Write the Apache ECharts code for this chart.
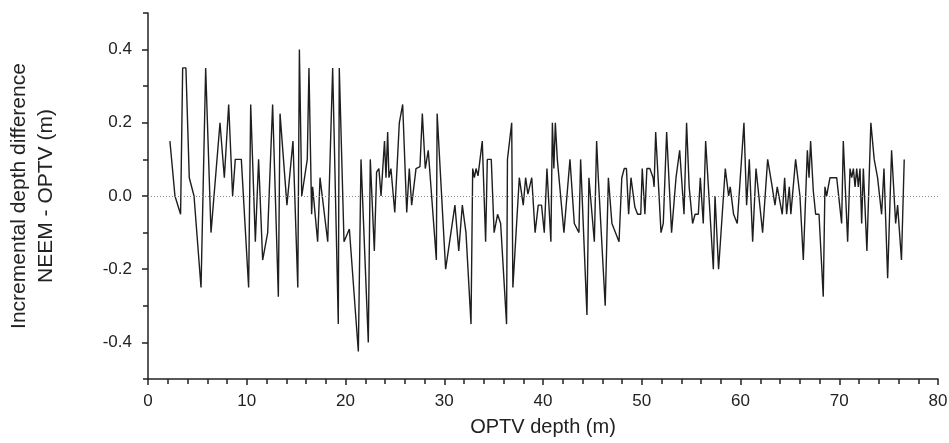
<!DOCTYPE html>
<html>
<head>
<meta charset="utf-8">
<script src="https://cdn.jsdelivr.net/npm/echarts@6/dist/echarts.min.js"></script>
<style>html,body{margin:0;padding:0;background:#fff}#c{width:949px;height:443px}</style>
</head>
<body>
<div id="c"></div>
<script>
const depth = [2.22,2.73,3.30,3.51,3.84,4.18,4.66,5.37,5.84,6.38,
7.29,7.73,7.90,8.17,8.57,8.84,9.45,10.19,10.40,10.87,
11.20,11.61,12.12,12.62,13.20,13.37,14.07,14.68,15.17,15.33,
15.57,16.13,16.30,16.57,16.67,16.85,17.18,17.42,18.20,18.70,
19.27,19.37,19.85,20.39,21.30,21.57,22.31,22.51,22.92,23.15,
23.38,23.60,23.95,24.10,24.27,24.40,24.60,24.99,25.45,25.79,
26.20,26.46,26.70,27.14,27.54,27.78,28.08,28.38,29.20,29.28,
30.14,31.08,31.47,31.83,32.20,32.71,32.88,33.05,33.22,33.42,
33.85,34.19,34.36,34.76,35.05,35.40,35.71,36.31,36.40,36.58,
36.83,36.95,37.60,38.00,38.24,38.47,38.86,39.20,39.52,39.85,
40.13,40.40,40.80,40.95,41.10,41.25,41.45,42.12,42.73,43.17,
43.64,43.81,44.45,44.65,45.20,45.43,45.60,45.78,46.30,46.62,
46.98,47.70,47.98,48.23,48.45,48.67,48.91,49.30,49.58,49.90,
50.05,50.32,50.52,50.82,51.15,51.25,51.41,51.95,52.18,52.52,
53.02,53.47,53.63,53.84,54.28,54.54,54.80,55.15,55.40,55.73,
55.93,56.23,56.47,57.25,57.42,57.78,58.46,58.80,58.96,59.30,
59.67,60.35,60.62,60.89,61.23,61.57,62.24,62.75,63.15,63.49,
63.72,64.23,64.47,64.67,64.94,65.10,65.30,65.58,66.02,66.36,
66.77,66.94,67.10,67.37,67.61,67.95,68.38,68.55,68.72,69.06,
69.74,70.24,70.41,70.85,71.09,71.26,71.43,71.60,71.77,71.93,
72.10,72.27,72.44,72.80,73.20,73.54,73.88,74.29,74.53,74.90,
75.30,75.71,75.91,76.30,76.58];

const diff = [0.15,0.0,-0.05,0.35,0.35,0.05,0.0,-0.25,0.35,-0.10,
0.20,0.05,0.05,0.25,0.0,0.10,0.10,-0.25,0.25,-0.125,
0.10,-0.175,-0.10,0.25,-0.275,0.225,-0.025,0.15,-0.25,0.40,
0.0,0.10,0.35,-0.05,0.025,0.025,-0.125,0.05,-0.125,0.35,
-0.35,0.35,-0.125,-0.09,-0.425,0.10,-0.40,0.10,-0.15,0.065,
0.075,0.0,0.15,0.05,0.175,0.05,0.075,-0.045,0.20,0.25,
-0.045,0.075,-0.025,0.075,0.08,0.225,0.075,0.125,-0.175,0.225,
-0.20,-0.025,-0.15,-0.025,-0.10,-0.35,0.075,0.05,0.075,0.055,
0.15,-0.125,0.10,0.10,-0.10,-0.05,-0.075,-0.35,0.10,0.10,
0.20,-0.25,0.05,-0.025,0.05,0.005,0.05,-0.10,-0.025,-0.025,
-0.10,0.075,-0.125,0.20,0.075,0.20,0.10,-0.10,0.10,-0.075,
-0.10,0.10,-0.325,0.05,-0.125,0.15,0.05,0.05,-0.30,0.05,
-0.075,-0.125,0.05,0.075,0.075,-0.05,0.05,-0.03,-0.05,-0.05,
0.075,-0.05,0.075,0.075,0.05,0.025,0.175,-0.10,-0.075,0.175,
-0.10,0.05,0.05,0.125,-0.05,0.20,0.025,-0.075,-0.05,-0.05,
0.05,-0.075,0.15,-0.20,0.0,-0.20,0.075,0.0,0.025,-0.05,
-0.075,0.20,-0.025,0.10,-0.125,0.075,-0.10,0.10,0.035,-0.025,
0.025,-0.05,0.05,-0.05,0.025,-0.05,-0.05,0.10,0.0,-0.175,
0.125,0.05,0.15,0.015,-0.05,-0.05,-0.275,0.025,0.0,0.05,
0.05,-0.075,0.15,-0.125,0.075,0.05,0.075,0.025,0.075,0.025,
0.075,-0.075,0.075,-0.15,0.20,0.10,0.05,-0.05,0.075,-0.225,
0.125,-0.075,-0.025,-0.175,0.10];

const yTicks = [-0.4, -0.2, 0, 0.2, 0.4];
const yMinorTicks = [-0.5, -0.3, -0.1, 0.1, 0.3, 0.5];
const xTitle = 'OPTV depth (m)';
const yTitle = 'Incremental depth difference\nNEEM - OPTV (m)';

const FONT = '"Liberation Sans", Arial, sans-serif';
const INK = '#222';
const chart = echarts.init(document.getElementById('c'), null, {renderer: 'canvas'});
const pts = depth.map((d, i) => [d, diff[i]]);

chart.setOption({
  animation: false,
  backgroundColor: '#fff',
  grid: {left: 148, right: 11, top: 13, bottom: 64, containLabel: false, outerBoundsMode: 'none'},
  xAxis: {
    type: 'value', min: 0, max: 80, interval: 10,
    axisLine: {show: true, onZero: false, lineStyle: {color: INK, width: 1.5}},
    axisTick: {show: true, length: 6, lineStyle: {color: INK, width: 1.5}},
    minorTick: {show: true, splitNumber: 5, length: 5, lineStyle: {color: INK, width: 1.5}},
    splitLine: {show: false},
    axisLabel: {fontSize: 17, color: INK, margin: 14, fontFamily: FONT},
    name: xTitle, nameLocation: 'middle', nameGap: 38,
    nameTextStyle: {fontSize: 20, color: INK, fontFamily: FONT}
  },
  yAxis: [{
    type: 'value', min: -0.5, max: 0.5,
    axisLine: {show: true, onZero: false, lineStyle: {color: INK, width: 1.5}},
    axisTick: {show: true, length: 6, customValues: yTicks, lineStyle: {color: INK, width: 1.5}},
    splitLine: {show: false},
    axisLabel: {fontSize: 17, color: INK, margin: 16, fontFamily: FONT, customValues: yTicks,
      formatter: v => Number(v).toFixed(1)},
    name: yTitle, nameLocation: 'middle', nameGap: 88, nameRotate: 90,
    nameTextStyle: {fontSize: 21, color: INK, fontFamily: FONT, lineHeight: 27, align: 'center'}
  }, {
    type: 'value', min: -0.5, max: 0.5, position: 'left',
    axisLine: {show: false, onZero: false},
    axisTick: {show: true, length: 5, customValues: yMinorTicks, lineStyle: {color: INK, width: 1.5}},
    axisLabel: {show: false},
    splitLine: {show: false}
  }],
  series: [{
    type: 'line', data: pts, yAxisIndex: 0,
    symbol: 'none', smooth: false,
    lineStyle: {color: '#1e1e1e', width: 1.4},
    markLine: {
      silent: true, symbol: 'none', label: {show: false},
      lineStyle: {color: '#888', width: 1, type: [1, 2]},
      data: [{yAxis: 0}]
    }
  }]
});
</script>
</body>
</html>
